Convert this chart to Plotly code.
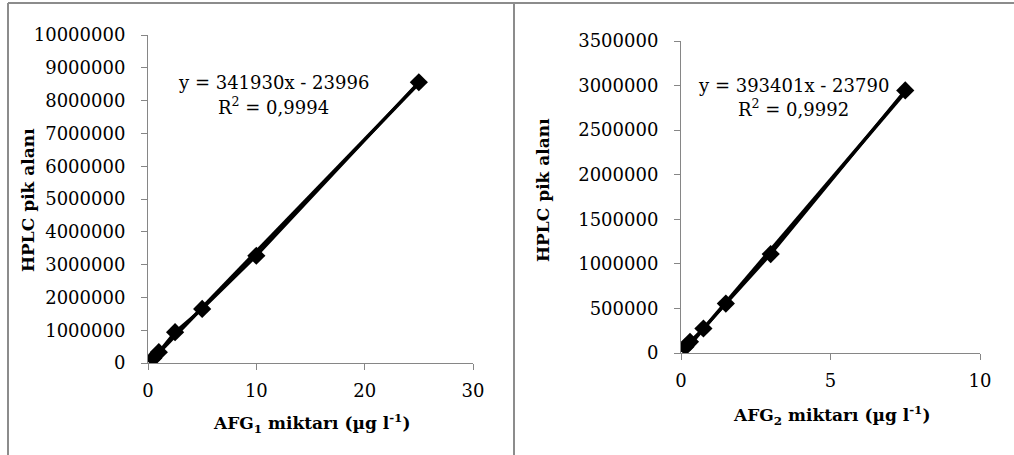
import plotly.graph_objects as go

# ---- data ----
afg1_x = [0.5, 1, 2.5, 5, 10, 25]
afg1_y = [150000, 330000, 940000, 1650000, 3270000, 8560000]
afg1_slope, afg1_intercept, afg1_r2 = 341930, -23996, "0,9994"

afg2_x = [0.15, 0.3, 0.75, 1.5, 3, 7.5]
afg2_y = [70000, 125000, 275000, 555000, 1110000, 2945000]
afg2_slope, afg2_intercept, afg2_r2 = 393401, -23790, "0,9992"

y1_ticks = [0, 1000000, 2000000, 3000000, 4000000, 5000000, 6000000, 7000000, 8000000, 9000000, 10000000]
y2_ticks = [0, 500000, 1000000, 1500000, 2000000, 2500000, 3000000, 3500000]
x1_ticks = [0, 10, 20, 30]
x2_ticks = [0, 5, 10]

W, H = 1014, 455
FONT = "DejaVu Serif"
AXC = "#868686"

def px(x):
    return x / W

def py(y):
    return 1 - y / H

fig = go.Figure()

def add_panel(xs, ys, slope, intercept, xa, ya):
    xmin, xmax = min(xs), max(xs)
    fig.add_trace(go.Scatter(x=[xmin, xmax], y=[slope * xmin + intercept, slope * xmax + intercept],
                             mode="lines", line=dict(color="black", width=3.5),
                             xaxis=xa, yaxis=ya, showlegend=False, hoverinfo="skip"))
    fig.add_trace(go.Scatter(x=xs, y=ys, mode="lines+markers",
                             line=dict(color="black", width=3),
                             marker=dict(symbol="diamond", size=14, color="black"),
                             xaxis=xa, yaxis=ya, showlegend=False))

add_panel(afg1_x, afg1_y, afg1_slope, afg1_intercept, "x", "y")
add_panel(afg2_x, afg2_y, afg2_slope, afg2_intercept, "x2", "y2")

tickfont = dict(family=FONT, size=18, color="black")

def axis_common(standoff):
    return dict(showgrid=False, zeroline=False, showline=True, linecolor=AXC, linewidth=1,
                ticks="outside", ticklen=6, tickcolor=AXC, tickwidth=1, tickfont=tickfont,
                automargin=False, ticklabelstandoff=standoff)

fig.update_layout(
    width=W, height=H, margin=dict(l=0, r=0, t=0, b=0),
    paper_bgcolor="white", plot_bgcolor="white", showlegend=False,
    xaxis=dict(domain=[px(148), px(473)], range=[0, 30], tickvals=x1_ticks,
               ticktext=[str(v) for v in x1_ticks], anchor="y", **axis_common(5)),
    yaxis=dict(domain=[py(363), py(35)], range=[0, 10000000], tickvals=y1_ticks,
               ticktext=[str(v) for v in y1_ticks], anchor="x", **axis_common(12)),
    xaxis2=dict(domain=[px(681), px(980)], range=[0, 10], tickvals=x2_ticks,
                ticktext=[str(v) for v in x2_ticks], anchor="y2", **axis_common(5)),
    yaxis2=dict(domain=[py(353), py(41)], range=[0, 3500000], tickvals=y2_ticks,
                ticktext=[str(v) for v in y2_ticks], anchor="x2", **axis_common(12)),
)

def ann(text, x, y, size=18, bold=False, angle=0):
    t = f"<b>{text}</b>" if bold else text
    fig.add_annotation(text=t, x=px(x), y=py(y), xref="paper", yref="paper",
                       showarrow=False, xanchor="center", yanchor="middle", textangle=angle,
                       font=dict(family=FONT, size=size, color="black"))

def fmt_eq(slope, intercept):
    sign = "-" if intercept < 0 else "+"
    return f"y = {slope}x {sign} {abs(intercept)}"

ann(fmt_eq(afg1_slope, afg1_intercept), 273, 82)
ann(f"R<sup>2</sup> = {afg1_r2}", 273, 106)
ann(fmt_eq(afg2_slope, afg2_intercept), 793, 85)
ann(f"R<sup>2</sup> = {afg2_r2}", 793, 108)

ann("HPLC pik alanı", 28, 200, size=17, bold=True, angle=-90)
ann("HPLC pik alanı", 543, 190, size=17, bold=True, angle=-90)
ann("AFG<sub>1</sub> miktarı (µg l<sup>-1</sup>)", 311, 423, size=17, bold=True)
ann("AFG<sub>2</sub> miktarı (µg l<sup>-1</sup>)", 831, 415, size=17, bold=True)

# chart-area borders
border = dict(color="#8c8c8c", width=2)
for x0, y0, x1, y1 in [(8, 3, 1014, 3), (8, 3, 8, 455), (514, 3, 514, 455)]:
    fig.add_shape(type="line", xref="paper", yref="paper", x0=px(x0), y0=py(y0), x1=px(x1), y1=py(y1), line=border)

fig.write_html("out.html", config={"displayModeBar": False},
               post_script="document.body.style.margin='0';document.body.style.overflow='hidden';")
